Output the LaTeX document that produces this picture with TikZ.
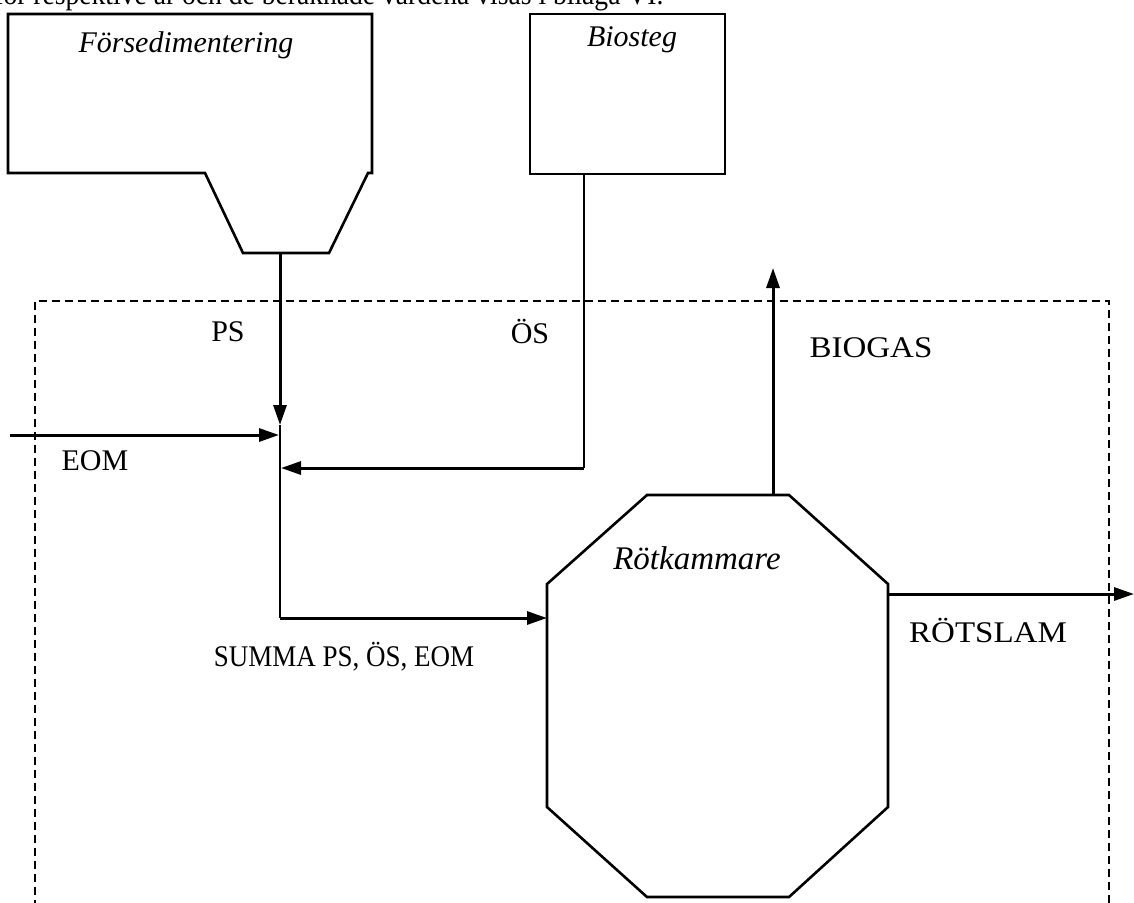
\documentclass[tikz,border=0pt]{standalone}
\usepackage{fontspec}
\setmainfont{Liberation Serif}
\usetikzlibrary{arrows.meta}
\begin{document}
\begin{tikzpicture}[x=0.5pt,y=-0.5pt,
  box/.style={line width=1.3pt},
  flow/.style={line width=1.5pt,-{Triangle[length=10pt,width=6.5pt]}},
  thinline/.style={line width=0.75pt},
  boundary/.style={line width=0.75pt,dash pattern=on 4pt off 2.5pt},
  lbl/.style={font=\fontsize{15}{17}\selectfont,inner sep=0pt},
  ilbl/.style={font=\fontsize{15}{17}\selectfont\itshape,inner sep=0pt}]
\useasboundingbox (0,0) rectangle (1134,902);

% cut-off text line at the top
\node[lbl,anchor=base west,xscale=0.92] (toptext) at (-6,4) {för respektive år och de beräknade värdena visas i bilaga VI.};

% system boundary
\draw[boundary] (35,960) -- (35,301) -- (1109,301) -- (1109,960);

% Försedimentering with hopper
\draw[box] (205,173) -- (8,173) -- (8,14) -- (372,14) -- (372,173) -- (368,173)
  -- (329,253) -- (243,253) -- cycle;
\coordinate (hop) at (280,253);
\node[ilbl] (fsedlbl) at (186,45) {Försedimentering};

% Biosteg
\draw[box] (530,14) rectangle (725,174);
\coordinate (bio) at (584,174);
\node[ilbl] (biolbl) at (632,40) {Biosteg};

% Rötkammare (octagon)
\draw[box] (647,495) -- (789,495) -- (888,584) -- (888,807) -- (789,897)
  -- (647,897) -- (547,807) -- (547,584) -- cycle;
\node[ilbl,font=\fontsize{16.5}{18}\selectfont\itshape] (rotlbl) at (697,558) {Rötkammare};
\coordinate (octtop) at (773,495);
\coordinate (octleft) at (547,618);
\coordinate (octright) at (888,594);

% junction coordinates
\coordinate (jps) at (280,425);
\coordinate (jeom) at (279,435);
\coordinate (jos) at (281,468);
\coordinate (jsum) at (280,618);
\coordinate (eomstart) at (10,435);
\coordinate (osbend) at (584,468);
\coordinate (gasend) at (773,268);
\coordinate (slamend) at (1134,594);

% flows
\draw[flow] (hop) -- (jps);
\draw[flow] (eomstart) -- (jeom);
\draw[thinline] (bio) -- (osbend);
\draw[flow] (osbend) -- (jos);
\draw[thinline] (jps) -- (jsum);
\draw[flow] (jsum) -- (octleft);
\draw[flow] (octtop) -- (gasend);
\draw[flow] (octright) -- (slamend);

% labels
\node[lbl] (pslbl) at (228,332) {PS};
\node[lbl] (oslbl) at (530,331) {ÖS};
\node[lbl] (eomlbl) at (95,461) {EOM};
\node[lbl,xscale=1.1] (gaslbl) at (871,348) {BIOGAS};
\node[lbl,xscale=0.9] (sumlbl) at (344,657) {SUMMA PS, ÖS, EOM};
\node[lbl,xscale=1.1] (slamlbl) at (988,630) {RÖTSLAM};
\end{tikzpicture}
\end{document}
